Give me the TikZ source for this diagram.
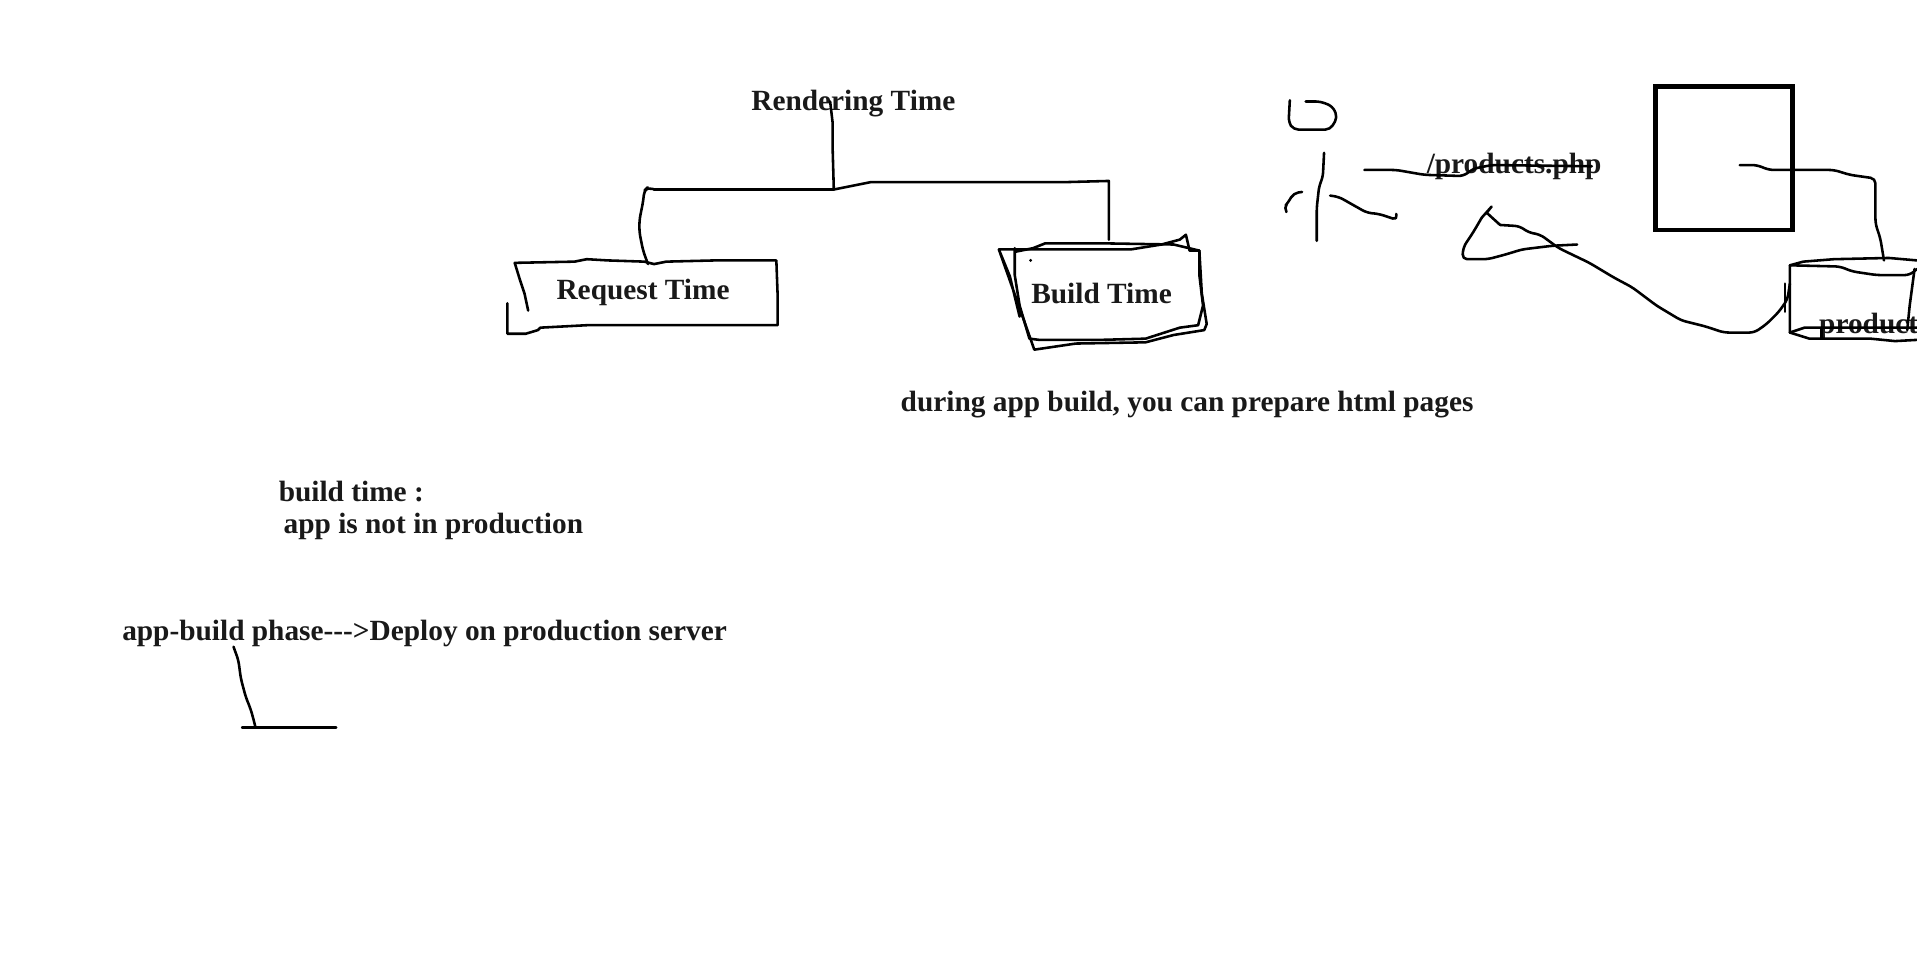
\documentclass[tikz,border=0pt]{standalone}
\usepackage{fontspec}
\setmainfont{Liberation Serif}
\tikzset{
  ink/.style={draw=black,line width=2.1pt,line join=round,line cap=round},
  soft/.style={ink,rounded corners=4pt},
  label/.style={inner sep=0pt,outer sep=0pt,font=\fontsize{24}{27}\selectfont\bfseries,text=black!90}
}
\begin{document}
\begin{tikzpicture}[x=1pt,y=-1pt]
\useasboundingbox (0,0) rectangle (1568,779);
\clip (0,0) rectangle (1568,779);
\fill[white] (0,0) rectangle (1568,779);
% labels
\node[label] (rendering) at (698,85) {Rendering Time};
\node[label] (request) at (526,239) {Request Time};
\node[label] (buildtime) at (901,240) {Build Time};
\node[label,anchor=west] (php) at (1167,136) {/products.php};
\node[label] (during) at (971,331) {during app build, you can prepare html pages};
\node[label,anchor=west] (bt) at (228,402) {build time :};
\node[label,anchor=west] (notprod) at (232,431) {app is not in production};
\node[label,anchor=west] (phase) at (100,518) {app-build phase-{}-{}->Deploy on production server};
\node[label,anchor=west] (product) at (1488,267) {product};
% rendering tree
\draw[ink] (679,83) -- (681,100) -- (681,120) -- (682,155);
\draw[ink] (682,155) -- (535,155);
\draw[soft] (535,155) -- (530,153) -- (527,156) -- (526,165) -- (523,180) -- (523,190) -- (526,205) -- (530,216);
\draw[ink] (682,155) -- (712,149) -- (870,149) -- (907,148) -- (907,196);
% request box
\draw[ink] (415,248) -- (415,273) -- (430,273) -- (440,270) -- (442,268) -- (480,266) -- (636,266) -- (636,240) -- (635,213) -- (585,213) -- (545,214) -- (535,216) -- (527,214) -- (497,213) -- (480,212) -- (470,214) -- (421,215) -- (425,228) -- (429,240) -- (432,254);
% build box
\draw[ink] (834,259) -- (826,226) -- (817,204) -- (846,286) -- (880,281) -- (937,280) -- (960,274) -- (985,270) -- (987,265) -- (983,240) -- (981,205) -- (973,205) -- (970,192) -- (965,196) -- (950,200) -- (925,204) -- (880,204) -- (817,204);
\draw[ink] (830,203) -- (830,225) -- (834,250) -- (842,277) -- (850,278) -- (900,278) -- (937,277) -- (965,268) -- (980,266) -- (984,250) -- (981,225) -- (981,205) -- (960,200) -- (900,199) -- (855,199) -- (845,203) -- (830,206);
\fill (843,213) circle (1.3pt);
% person
\draw[soft] (1055,82) -- (1054,100) -- (1058,106) -- (1088,106) -- (1094,96) -- (1090,87) -- (1080,83) -- (1068,83);
\draw[soft] (1083,125) -- (1082,145) -- (1079,152) -- (1077,170) -- (1077,197);
\draw[soft] (1065,157) -- (1058,158) -- (1054,165) -- (1050,170) -- (1052,173);
\draw[soft] (1088,160) -- (1095,161) -- (1118,174) -- (1128,175) -- (1143,180) -- (1142,175);
% request line
\draw[soft] (1116,139) -- (1142,139) -- (1165,143) -- (1197,144) -- (1205,138) -- (1220,135) -- (1302,136);
% return squiggle
\draw[soft] (1290,200) -- (1270,201) -- (1245,204) -- (1232,208) -- (1217,212) -- (1196,212) -- (1197,202) -- (1205,190) -- (1212,178);
\draw[ink] (1212,178) -- (1220,169) -- (1216,174) -- (1227,184);
\draw[soft] (1227,184) -- (1243,185) -- (1250,190) -- (1260,192) -- (1275,203) -- (1300,215) -- (1320,227) -- (1335,235) -- (1355,250) -- (1375,262) -- (1395,267) -- (1410,272) -- (1435,272) -- (1445,265) -- (1455,255) -- (1462,245) -- (1464,232);
\draw[ink] (1460,232) -- (1460,255);
% server square
\draw[draw=black,line width=3.8pt] (1354,71) rectangle (1466,188);
\draw[soft] (1423,135) -- (1437,135) -- (1447,139) -- (1500,139) -- (1513,143) -- (1534,146) -- (1534,183) -- (1538,195) -- (1541,213);
% database
\draw[ink] (1464,272) -- (1464,217) -- (1475,214) -- (1500,212) -- (1545,211) -- (1568,213);
\draw[soft] (1464,217) -- (1505,218) -- (1515,222) -- (1535,225) -- (1562,225) -- (1568,220);
\draw[ink] (1566,220) -- (1562,250) -- (1560,270);
\draw[ink] (1464,272) -- (1480,277) -- (1530,277) -- (1550,279) -- (1568,278);
\draw[ink] (1464,272) -- (1476,268) -- (1568,268);
\draw[ink] (1490,268) -- (1490,277);
% bottom stroke
\draw[soft] (191,529) -- (195,540) -- (197,555) -- (201,570) -- (205,580) -- (207,587) -- (209,595);
\draw[ink] (198,595) -- (275,595);
\end{tikzpicture}
\end{document}
